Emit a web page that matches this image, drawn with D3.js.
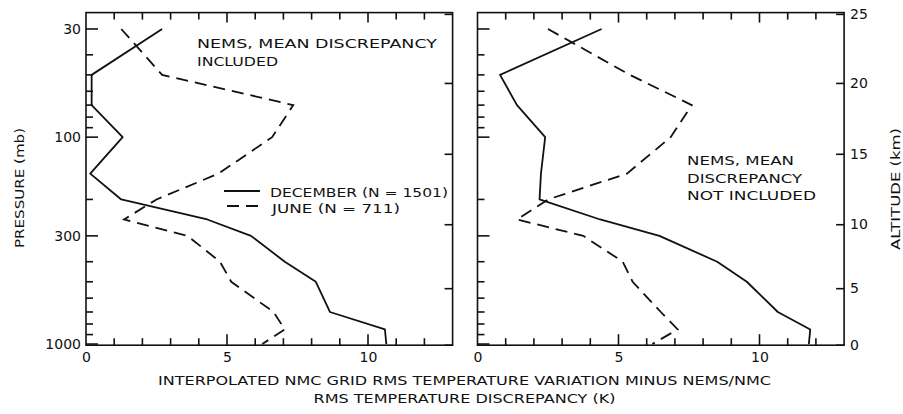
<!DOCTYPE html>
<html>
<head>
<meta charset="utf-8">
<script src="https://cdn.jsdelivr.net/npm/d3@7"></script>
<style>
  html, body { margin: 0; padding: 0; background: #fff; }
  svg { display: block; }
  text { font-family: "DejaVu Sans", sans-serif; fill: #111; }
</style>
</head>
<body>
<svg id="chart" width="903" height="414"></svg>
<script>
// Pressure levels (mb) at which each profile is given
const pressureLevels = [30, 50, 70, 100, 150, 200, 250, 300, 400, 500, 700, 850, 1000];

// Left panel: NEMS mean discrepancy included (K)
const decIncluded  = [2.7, 0.2, 0.2, 1.3, 0.15, 1.25, 4.3, 5.85, 7.05, 8.15, 8.65, 10.6, 10.65];
const juneIncluded = [1.25, 2.7, 7.35, 6.6, 4.7, 2.5, 1.35, 3.6, 4.75, 5.15, 6.65, 7.05, 6.25];

// Right panel: NEMS mean discrepancy not included (K)
const decExcluded  = [4.4, 0.8, 1.4, 2.4, 2.25, 2.2, 4.35, 6.45, 8.5, 9.55, 10.65, 11.8, 11.75];
const juneExcluded = [2.5, 5.4, 7.6, 6.85, 5.3, 2.5, 1.4, 3.75, 5.15, 5.5, 6.5, 7.1, 6.2];

// Axis ticks
const xMinorTicks = [1, 2, 3, 4, 6, 7, 8, 9, 11, 12];
const xMajorTicks = [5, 10];
const xTickLabels = [0, 5, 10];
const pressureMajor = [30, 100, 300, 1000];
const pressureMinor = [40, 50, 60, 70, 80, 90, 200, 400, 500, 600, 700, 800, 900];
const altitudeKm = [0, 5, 10, 15, 20, 25];
const altitudePressure = [1013, 540, 265, 121, 55, 25.5]; // standard atmosphere

const seriesNames = ["DECEMBER (N = 1501)", "JUNE (N = 711)"];

const svg = d3.select("#chart");
const yTop = 12.6, yBottom = 345.2;
const y = d3.scaleLog().domain([25, 1013]).range([yTop, yBottom]);
const ink = "#111";

const panels = [
  { x0: 86, x1: 452.6, dec: decIncluded, june: juneIncluded },
  { x0: 477.5, x1: 844.1, dec: decExcluded, june: juneExcluded }
];

const dashes = "12,7";

function noDomain(g) { g.select(".domain").remove(); }

// short inward tick marks
function hTicks(g, values, xPos, len) {
  g.selectAll(null).data(values).join("line")
    .attr("x1", xPos).attr("x2", xPos + len)
    .attr("y1", d => y(d)).attr("y2", d => y(d))
    .attr("stroke", ink).attr("stroke-width", 1.6);
}
function vTicks(g, values, x, yPos, len) {
  g.selectAll(null).data(values).join("line")
    .attr("x1", d => x(d)).attr("x2", d => x(d))
    .attr("y1", yPos).attr("y2", yPos + len)
    .attr("stroke", ink).attr("stroke-width", 1.6);
}

panels.forEach(p => {
  const x = d3.scaleLinear().domain([0, 13]).range([p.x0, p.x1]);
  const g = svg.append("g");

  // frame
  g.append("rect")
    .attr("x", p.x0).attr("y", yTop)
    .attr("width", p.x1 - p.x0).attr("height", yBottom - yTop)
    .attr("fill", "none").attr("stroke", ink).attr("stroke-width", 1.6);

  const t = g.append("g");
  vTicks(t, xMinorTicks, x, yBottom, -7);
  vTicks(t, xMajorTicks, x, yBottom, -11);
  vTicks(t, xMinorTicks, x, yTop, 7);
  vTicks(t, xMajorTicks, x, yTop, 10);
  hTicks(t, pressureMinor, p.x0, 7);
  hTicks(t, pressureMajor, p.x0, 12);
  hTicks(t, altitudePressure, p.x1, -8);

  // x tick labels
  const xl = g.append("g").attr("transform", `translate(0,${yBottom})`)
    .call(d3.axisBottom(x).tickValues(xTickLabels).tickSize(0).tickPadding(7).tickFormat(d3.format("d")))
    .call(noDomain);
  xl.selectAll("text").style("font-size", "14px").attr("fill", ink);

  // profiles
  const line = vals => d3.line()
    .x((d, k) => x(vals[k]))
    .y(d => y(d))(pressureLevels);

  g.append("path").attr("d", line(p.dec))
    .attr("fill", "none").attr("stroke", ink).attr("stroke-width", 1.8)
    .attr("stroke-linejoin", "round");
  g.append("path").attr("d", line(p.june))
    .attr("fill", "none").attr("stroke", ink).attr("stroke-width", 1.8)
    .attr("stroke-dasharray", dashes);
});

// pressure labels (left)
const pl = svg.append("g").attr("transform", `translate(86,0)`)
  .call(d3.axisLeft(y).tickValues(pressureMajor).tickSize(0).tickPadding(5).tickFormat(d3.format("d")))
  .call(noDomain);
pl.selectAll("text").style("font-size", "14px").attr("fill", ink);

// altitude labels (right)
const al = svg.append("g").attr("transform", `translate(844.1,0)`)
  .call(d3.axisRight(y).tickValues(altitudePressure).tickSize(0).tickPadding(6)
    .tickFormat((d, k) => altitudeKm[k]))
  .call(noDomain);
al.selectAll("text").style("font-size", "14px").attr("fill", ink).attr("dy", "0.3em");

// stretched uppercase lettering
function label(sel, str, len, size) {
  return sel.attr("textLength", len).attr("lengthAdjust", "spacingAndGlyphs")
    .style("font-size", size + "px").text(str);
}

// axis titles
label(svg.append("text")
  .attr("transform", "translate(24,188) rotate(-90)")
  .attr("text-anchor", "middle"), "PRESSURE (mb)", 120, 13);

label(svg.append("text")
  .attr("transform", "translate(900,189) rotate(-90)")
  .attr("text-anchor", "middle"), "ALTITUDE (km)", 122, 13);

label(svg.append("text")
  .attr("x", 464.5).attr("y", 385)
  .attr("text-anchor", "middle"),
  "INTERPOLATED NMC GRID RMS TEMPERATURE VARIATION MINUS NEMS/NMC", 613, 13);
label(svg.append("text")
  .attr("x", 464.5).attr("y", 403)
  .attr("text-anchor", "middle"),
  "RMS TEMPERATURE DISCREPANCY (K)", 302, 13);

// panel annotations
function note(x, yb, str, len) {
  label(svg.append("text").attr("x", x).attr("y", yb), str, len, 12.5);
}
note(197, 48, "NEMS, MEAN DISCREPANCY", 240);
note(197, 66, "INCLUDED", 81);
note(687, 165, "NEMS, MEAN", 107);
note(687, 183, "DISCREPANCY", 115);
note(687, 200, "NOT INCLUDED", 129);

// legend
const legend = svg.append("g");
legend.append("line").attr("x1", 224).attr("x2", 260).attr("y1", 191).attr("y2", 191)
  .attr("stroke", ink).attr("stroke-width", 2);
legend.append("line").attr("x1", 227).attr("x2", 258).attr("y1", 206).attr("y2", 206)
  .attr("stroke", ink).attr("stroke-width", 2).attr("stroke-dasharray", dashes);
label(legend.append("text").attr("x", 270).attr("y", 197), seriesNames[0], 178, 12.5);
label(legend.append("text").attr("x", 272).attr("y", 213), seriesNames[1], 128, 12.5);
</script>
</body>
</html>
